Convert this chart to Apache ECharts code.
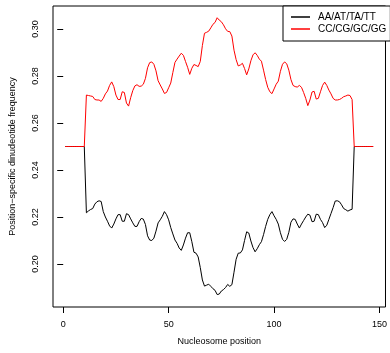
<!DOCTYPE html>
<html>
<head>
<meta charset="utf-8">
<script src="https://cdn.jsdelivr.net/npm/echarts@6/dist/echarts.min.js"></script>
<style>
  html, body { margin: 0; padding: 0; background: #fff; }
  #chart { width: 390px; height: 353px; }
</style>
</head>
<body>
<div id="chart"></div>
<script>
// Dinucleotide frequency along the 147 bp nucleosome (positions 1..147)
const seriesNames = ['AA/AT/TA/TT', 'CC/CG/GC/GG'];

const atValues = [
  0.25, 0.25, 0.25, 0.25, 0.25, 0.25, 0.25, 0.25, 0.25, 0.25,
  0.2218, 0.2226, 0.2232, 0.2236, 0.2255, 0.2265, 0.2269, 0.2266, 0.2223, 0.2200,
  0.2182, 0.2162, 0.2153, 0.2170, 0.2192, 0.2210, 0.2210, 0.2182, 0.2182, 0.2214,
  0.2210, 0.2192, 0.2175, 0.2160, 0.2160, 0.2180, 0.2194, 0.2191, 0.2168, 0.2120,
  0.2102, 0.2100, 0.2110, 0.2140, 0.2175, 0.2188, 0.2203, 0.2223, 0.2210, 0.2188,
  0.2155, 0.2128, 0.2102, 0.2088, 0.2068, 0.2058, 0.2081, 0.2110, 0.2133, 0.2133,
  0.2095, 0.2050, 0.2046, 0.2030, 0.1985, 0.1932, 0.1906, 0.1910, 0.1914, 0.1905,
  0.1895, 0.1888, 0.1870, 0.1872, 0.1885, 0.1891, 0.1900, 0.1913, 0.1905, 0.1912,
  0.1965, 0.2020, 0.2046, 0.2047, 0.2060, 0.2100, 0.2137, 0.2132, 0.2098, 0.2070,
  0.2052, 0.2065, 0.2082, 0.2095, 0.2125, 0.2160, 0.2190, 0.2210, 0.2223, 0.2205,
  0.2190, 0.2170, 0.2133, 0.2105, 0.2096, 0.2105, 0.2135, 0.2178, 0.2192, 0.2190,
  0.2170, 0.2153, 0.2170, 0.2185, 0.2200, 0.2212, 0.2208, 0.2180, 0.2182, 0.2212,
  0.2210, 0.2190, 0.2176, 0.2155, 0.2165, 0.2190, 0.2215, 0.2240, 0.2268, 0.2269,
  0.2265, 0.2252, 0.2236, 0.2231, 0.2225, 0.2230, 0.2233,
  0.25, 0.25, 0.25, 0.25, 0.25, 0.25, 0.25, 0.25, 0.25, 0.25
];

const gcValues = [
  0.25, 0.25, 0.25, 0.25, 0.25, 0.25, 0.25, 0.25, 0.25, 0.25,
  0.2719, 0.2717, 0.2715, 0.2713, 0.2700, 0.2698, 0.2698, 0.2692, 0.2705, 0.2724,
  0.2736, 0.2760, 0.2775, 0.2755, 0.2719, 0.2700, 0.2700, 0.2733, 0.2730, 0.2685,
  0.2672, 0.2708, 0.2738, 0.2758, 0.2763, 0.2756, 0.2757, 0.2765, 0.2790, 0.2835,
  0.2857, 0.2860, 0.2850, 0.2822, 0.2780, 0.2762, 0.2745, 0.2726, 0.2730, 0.2750,
  0.2770, 0.2815, 0.2858, 0.2872, 0.2885, 0.2897, 0.2888, 0.2862, 0.2837, 0.2807,
  0.2833, 0.2849, 0.2845, 0.2840, 0.2862, 0.2930, 0.2982, 0.2986, 0.2991, 0.3005,
  0.3020, 0.3028, 0.3048, 0.3038, 0.3031, 0.3018, 0.3001, 0.2990, 0.2989, 0.2970,
  0.2910, 0.2870, 0.2843, 0.2847, 0.2854, 0.2832, 0.2805, 0.2830, 0.2865, 0.2890,
  0.2899, 0.2888, 0.2872, 0.2863, 0.2825, 0.2785, 0.2752, 0.2733, 0.2725, 0.2745,
  0.2765, 0.2778, 0.2820, 0.2850, 0.2860, 0.2852, 0.2825, 0.2785, 0.2760, 0.2755,
  0.2753, 0.2760, 0.2752, 0.2730, 0.2705, 0.2674, 0.2698, 0.2732, 0.2735, 0.2702,
  0.2705, 0.2733, 0.2760, 0.2774, 0.2760, 0.2740, 0.2724, 0.2705, 0.2698, 0.2698,
  0.2700, 0.2705, 0.2712, 0.2715, 0.2719, 0.2717, 0.2700,
  0.25, 0.25, 0.25, 0.25, 0.25, 0.25, 0.25, 0.25, 0.25, 0.25
];

const xTicks = [0, 50, 100, 150];
const yTicks = [0.20, 0.22, 0.24, 0.26, 0.28, 0.30];

const positions = atValues.map((_, i) => i + 1);
const toPairs = vals => vals.map((v, i) => [positions[i], v]);

const font = 'Liberation Sans, Arial, Helvetica, sans-serif';
const chart = echarts.init(document.getElementById('chart'), null, { renderer: 'canvas' });

chart.setOption({
  animation: false,
  backgroundColor: '#fff',
  textStyle: { fontFamily: font },
  grid: {
    left: 52, top: 6, width: 336, height: 301,
    show: true, borderColor: '#000', borderWidth: 1, backgroundColor: 'transparent'
  },
  legend: {
    orient: 'vertical',
    left: 283, top: 6,
    padding: [5, 4, 6, 8],
    itemGap: 0,
    itemWidth: 19, itemHeight: 1.5,
    icon: 'rect',
    borderColor: '#000', borderWidth: 1, backgroundColor: '#fff',
    textStyle: { fontFamily: font, fontSize: 10, lineHeight: 12, color: '#000', padding: [0, 0, 0, 3] },
    data: seriesNames
  },
  xAxis: {
    type: 'value',
    min: -4.84, max: 152.84,
    name: 'Nucleosome position',
    nameLocation: 'middle',
    nameGap: 30,
    nameTextStyle: { fontFamily: font, fontSize: 9, color: '#000' },
    axisLine: { show: false },
    splitLine: { show: false },
    axisTick: { show: true, customValues: xTicks, length: 6, lineStyle: { color: '#000', width: 1 } },
    axisLabel: { customValues: xTicks, margin: 13, fontSize: 9, color: '#000', fontFamily: font }
  },
  yAxis: {
    type: 'value',
    min: 0.1817, max: 0.3098,
    name: 'Position\u2212specific dinudeotide frequency',
    nameLocation: 'middle',
    nameGap: 36,
    nameTextStyle: { fontFamily: font, fontSize: 9, color: '#000' },
    axisLine: { show: false },
    splitLine: { show: false },
    axisTick: { show: true, customValues: yTicks, length: 6, lineStyle: { color: '#000', width: 1 } },
    axisLabel: {
      customValues: yTicks, rotate: 90, margin: 13, fontSize: 9, color: '#000', fontFamily: font,
      formatter: v => v.toFixed(2)
    }
  },
  series: [
    {
      name: seriesNames[0], type: 'line', data: toPairs(atValues),
      showSymbol: false, color: '#000', lineStyle: { width: 1, color: '#000' }, z: 2
    },
    {
      name: seriesNames[1], type: 'line', data: toPairs(gcValues),
      showSymbol: false, color: '#ff0000', lineStyle: { width: 1, color: '#ff0000' }, z: 3
    }
  ]
});
</script>
</body>
</html>
